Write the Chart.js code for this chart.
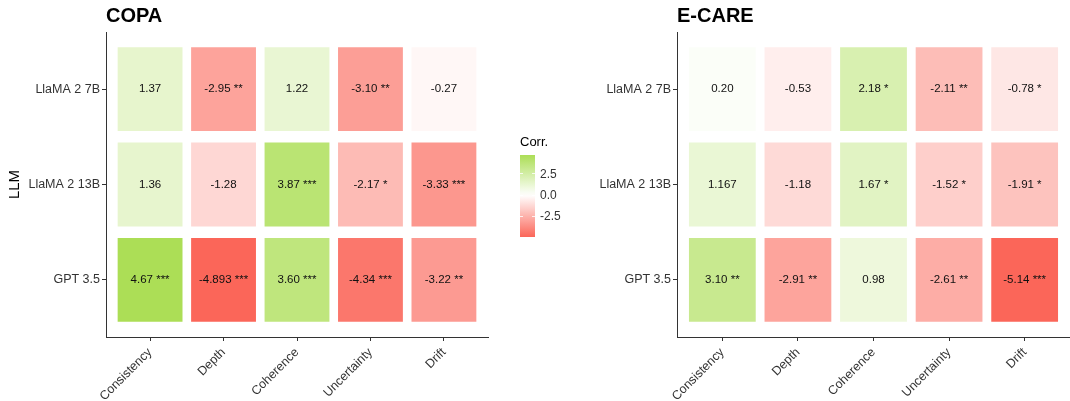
<!DOCTYPE html>
<html>
<head>
<meta charset="utf-8">
<script src="https://cdn.jsdelivr.net/npm/chart.js@4.4.1/dist/chart.umd.min.js"></script>
<style>
  body { margin: 0; background: #fff; font-family: "Liberation Sans", Arial, sans-serif; }
  #wrap { position: relative; width: 1070px; height: 401px; }
  .panel { position: absolute; top: 0; width: 535px; height: 401px; }
  #legend { position: absolute; left: 520px; top: 134px; color: #333; font-size: 12px; }
</style>
</head>
<body>
<div id="wrap">
  <div class="panel" style="left:0"><canvas id="copaChart"></canvas></div>
  <div class="panel" style="left:535px"><canvas id="ecareChart"></canvas></div>
  <div id="legend"></div>
</div>
<script>
// categories
var metrics = ['Consistency', 'Depth', 'Coherence', 'Uncertainty', 'Drift'];
var llms = ['GPT 3.5', 'LlaMA 2 13B', 'LlaMA 2 7B']; // bottom to top

// COPA correlations, one array per LLM (metric order)
var copaGpt35 = [4.67, -4.893, 3.60, -4.34, -3.22];
var copaLlama13 = [1.36, -1.28, 3.87, -2.17, -3.33];
var copaLlama7 = [1.37, -2.95, 1.22, -3.10, -0.27];
var copaGpt35Sig = ['***', '***', '***', '***', '**'];
var copaLlama13Sig = ['', '', '***', '*', '***'];
var copaLlama7Sig = ['', '**', '', '**', ''];

// E-CARE correlations
var ecareGpt35 = [3.10, -2.91, 0.98, -2.61, -5.14];
var ecareLlama13 = [1.167, -1.18, 1.67, -1.52, -1.91];
var ecareLlama7 = [0.20, -0.53, 2.18, -2.11, -0.78];
var ecareGpt35Sig = ['**', '**', '', '**', '***'];
var ecareLlama13Sig = ['', '', '*', '*', '*'];
var ecareLlama7Sig = ['', '', '*', '**', '*'];

// legend ticks
var legendTicks = [2.5, 0.0, -2.5];

var lowColor = [251, 102, 89];
var highColor = [172, 222, 86];
var scaleMin = -4.893, scaleMax = 4.67;

// gradient2-like colour: white at 0
function corrColor(v) {
    var end = v >= 0 ? highColor : lowColor;
    var t = v >= 0 ? Math.min(v / scaleMax, 1) : Math.min(v / scaleMin, 1);
    var c = end.map(function (e) { return Math.round(255 + (e - 255) * t); });
    return 'rgb(' + c.join(',') + ')';
}

function fmt(v) {
    return Math.round(v * 100) / 100 !== v ? String(v) : v.toFixed(2);
}

// cell labels drawn through the scales
var cellText = {
    id: 'cellText',
    afterDatasetsDraw: function (chart) {
        var ctx = chart.ctx;
        var ds = chart.data.datasets[0];
        ctx.save();
        ctx.font = '11.5px "Liberation Sans", Arial, sans-serif';
        ctx.fillStyle = '#111';
        ctx.textAlign = 'center';
        ctx.textBaseline = 'middle';
        ds.data.forEach(function (p, i) {
            var x = chart.scales.x.getPixelForValue(p.x);
            var y = chart.scales.y.getPixelForValue((p.y[0] + p.y[1]) / 2);
            ctx.fillText(ds.labels[i], x, y);
        });
        ctx.restore();
    }
};

var panelTitle = {
    id: 'panelTitle',
    afterDraw: function (chart) {
        var ctx = chart.ctx;
        ctx.save();
        ctx.font = 'bold 20px "Liberation Sans", Arial, sans-serif';
        ctx.fillStyle = '#000';
        ctx.textAlign = 'left';
        ctx.textBaseline = 'middle';
        ctx.fillText(chart.options.plugins.panelTitle.text, chart.chartArea.left, 16);
        ctx.restore();
    }
};

function makeHeatmap(canvasId, title, rows, sigs, yWidth, padRight, showYTitle) {
    var points = [], colors = [], labels = [];
    rows.forEach(function (vals, r) {
        vals.forEach(function (v, c) {
            points.push({ x: c, y: [r - 0.45, r + 0.45] });
            colors.push(corrColor(v));
            labels.push(fmt(v) + (sigs[r][c] ? ' ' + sigs[r][c] : ''));
        });
    });
    return new Chart(document.getElementById(canvasId), {
        type: 'bar',
        data: {
            datasets: [{
                data: points,
                labels: labels,
                backgroundColor: colors,
                borderColor: 'rgba(255,255,255,0.35)',
                borderWidth: 1,
                borderSkipped: false,
                categoryPercentage: 1,
                barPercentage: 0.91
            }]
        },
        options: {
            responsive: false,
            animation: false,
            layout: { padding: { top: 32, right: padRight, left: 0, bottom: 0 } },
            plugins: {
                legend: { display: false },
                tooltip: { enabled: false },
                panelTitle: { text: title }
            },
            scales: {
                x: {
                    type: 'linear',
                    offset: false,
                    min: -0.6, max: 4.6,
                    afterBuildTicks: function (s) { s.ticks = metrics.map(function (m, i) { return { value: i }; }); },
                    afterFit: function (s) { s.height = 64; },
                    ticks: {
                        autoSkip: false, minRotation: 45, maxRotation: 45,
                        color: '#333', font: { size: 12.5, family: '"Liberation Sans", Arial, sans-serif' },
                        padding: 4,
                        callback: function (v) { return metrics[v]; }
                    },
                    grid: { offset: false, drawOnChartArea: false, tickLength: 4, tickColor: '#333' },
                    border: { display: true, color: '#333', width: 1 }
                },
                y: {
                    type: 'linear',
                    min: -0.6, max: 2.6,
                    afterBuildTicks: function (s) { s.ticks = llms.map(function (m, i) { return { value: i }; }); },
                    afterFit: function (s) { s.width = yWidth; },
                    ticks: {
                        color: '#333', font: { size: 12.5, family: '"Liberation Sans", Arial, sans-serif' },
                        padding: 2,
                        callback: function (v) { return llms[v]; }
                    },
                    title: {
                        display: showYTitle, text: 'LLM', color: '#000',
                        font: { size: 15, family: '"Liberation Sans", Arial, sans-serif' },
                        padding: { top: 6, bottom: 0 }
                    },
                    grid: { drawOnChartArea: false, tickLength: 4, tickColor: '#333' },
                    border: { display: true, color: '#333', width: 1 }
                }
            }
        },
        plugins: [cellText, panelTitle]
    });
}

function sizeCanvas(id) {
    var c = document.getElementById(id);
    c.width = 535; c.height = 401;
    c.style.width = '535px'; c.style.height = '401px';
}
sizeCanvas('copaChart');
sizeCanvas('ecareChart');

makeHeatmap('copaChart', 'COPA', [copaGpt35, copaLlama13, copaLlama7],
    [copaGpt35Sig, copaLlama13Sig, copaLlama7Sig], 106, 47, true);
makeHeatmap('ecareChart', 'E-CARE', [ecareGpt35, ecareLlama13, ecareLlama7],
    [ecareGpt35Sig, ecareLlama13Sig, ecareLlama7Sig], 142, 0, false);

// colour bar legend
(function () {
    var h = 82, w = 15;
    var stops = [];
    for (var i = 0; i <= 20; i++) {
        var v = scaleMax - (scaleMax - scaleMin) * i / 20;
        stops.push(corrColor(v) + ' ' + (i * 5) + '%');
    }
    var html = '<div style="font-size:13px;color:#000;margin-bottom:6px">Corr.</div>';
    html += '<div style="position:relative;width:' + w + 'px;height:' + h + 'px;background:linear-gradient(to bottom,' + stops.join(',') + ')">';
    legendTicks.forEach(function (t) {
        var y = (scaleMax - t) / (scaleMax - scaleMin) * h;
        html += '<div style="position:absolute;left:0;width:3px;top:' + (y - 0.5) + 'px;height:1px;background:rgba(255,255,255,0.8)"></div>';
        html += '<div style="position:absolute;left:' + (w - 3) + 'px;width:3px;top:' + (y - 0.5) + 'px;height:1px;background:rgba(255,255,255,0.8)"></div>';
        html += '<div style="position:absolute;left:' + (w + 5) + 'px;top:' + (y - 7) + 'px;line-height:14px;white-space:nowrap">' + t.toFixed(1) + '</div>';
    });
    html += '</div>';
    document.getElementById('legend').innerHTML = html;
})();
</script>
</body>
</html>
